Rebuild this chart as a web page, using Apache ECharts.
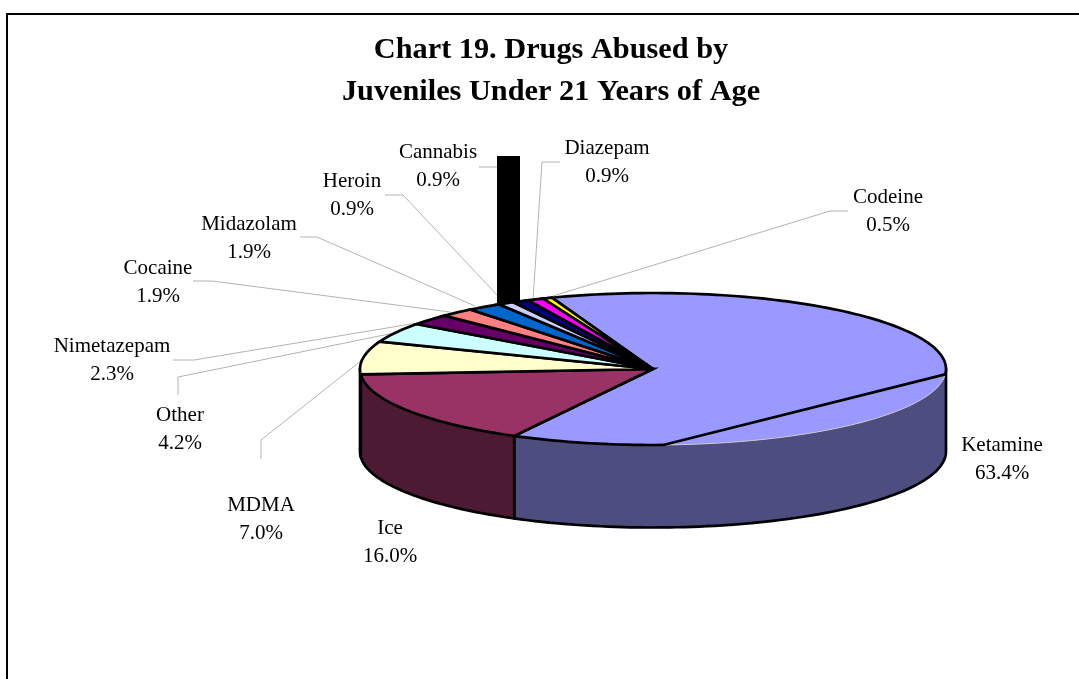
<!DOCTYPE html>
<html>
<head>
<meta charset="utf-8">
<style>html,body{margin:0;padding:0;background:#fff}#c{width:1079px;height:679px}</style>
<script src="https://cdn.jsdelivr.net/npm/echarts@6/dist/echarts.min.js"></script>
</head>
<body>
<div id="c"></div>
<script>
// ---- data ----
const categories = ['Ketamine','Ice','MDMA','Other','Nimetazepam','Cocaine','Midazolam','Heroin','Cannabis','Diazepam','Codeine'];
const percentages = [63.4,16.0,7.0,4.2,2.3,1.9,1.9,0.9,0.9,0.9,0.5];
const titleLines = ['Chart 19. Drugs Abused by','Juveniles Under 21 Years of Age'];

// ---- styles ----
const topColors = ['#9999FF','#993366','#FFFFCC','#CCFFFF','#660066','#FF8080','#0066CC','#CCCCFF','#000080','#FF00FF','#FFFF00'];
const sideColors = ['#4D4D80','#4D1A33','#808066','#668080','#330033','#804040','#003366','#666680','#000040','#800080','#808000'];

// ---- layout ----
const pie = {cx:653, cy:369, rx:293, ry:76, depth:82.5, start:-110.2};
const labelCenters = [[1002,459],[390,542],[261,519],[180,429],[112,360],[158,282],[249,238],[352,195],[438,166],[607,162],[888,211]];
const leaders = [
  null, null,
  [[261,459],[261,440],[362,360]],
  [[178,395],[178,377],[394,333]],
  [[173,360],[194,360],[417,323]],
  [[193,281],[212,281],[450,312]],
  [[300,237],[317,237],[475,306]],
  [[385,195],[403,195],[497,295]],
  [[479,167],[505,167]],
  [[560,162],[542,162],[533,300]],
  [[848,211],[830,211],[553,296]]
];
const spike = {x:497, y:156, width:23, height:149};
const flatRim = {from:4, to:88}; // the part of the first slice's rim drawn as a chord

const total = percentages.reduce((a,b)=>a+b,0);
const bounds = [pie.start];
percentages.forEach(v=>bounds.push(bounds[bounds.length-1]+v/total*360));

function pt(t,dy){
  const r=t*Math.PI/180;
  return [pie.cx+pie.rx*Math.cos(r), pie.cy+pie.ry*Math.sin(r)+(dy||0)];
}
function arc(a,b,dy){
  const n=Math.max(2,Math.ceil(Math.abs(b-a)/1.5)), out=[];
  for(let i=0;i<=n;i++) out.push(pt(a+(b-a)*i/n,dy));
  return out;
}
const black={stroke:'#000',lineWidth:2.7,fill:null,lineJoin:'miter',lineCap:'butt'};
const wall={stroke:'#000',lineWidth:2.7,fill:null,lineJoin:'round',lineCap:'round'};

function renderSlice(params,api){
  const i=params.dataIndex, a=bounds[i], b=bounds[i+1], children=[];
  // visible outer wall: the front half of the ellipse
  const s=Math.max(a,0), e=Math.min(b,180);
  if(e>s){
    const topEdge=arc(s,e), bottom=arc(e,s,pie.depth);
    children.push({type:'polygon',shape:{points:topEdge.concat(bottom)},style:{fill:sideColors[i],stroke:null}});
    children.push({type:'polyline',shape:{points:[pt(s)].concat(arc(s,e,pie.depth),[pt(e)])},style:wall});
  }
  const c=[pie.cx,pie.cy];
  children.push({type:'polygon',shape:{points:[c].concat(arc(a,b))},style:{fill:topColors[i],stroke:null}});
  if(i===0){
    children.push({type:'polyline',shape:{points:arc(flatRim.from,flatRim.to)},style:{stroke:'#c8c8c8',lineWidth:1,fill:null}});
    const outline=[c].concat(arc(a,flatRim.from),arc(flatRim.to,b),[c]);
    children.push({type:'polyline',shape:{points:outline},style:black});
  } else {
    children.push({type:'polygon',shape:{points:[c].concat(arc(a,b))},style:Object.assign({},black)});
  }
  return {type:'group',children};
}

function renderLabel(params,api){
  const i=params.dataIndex, children=[];
  if(leaders[i]) children.push({type:'polyline',shape:{points:leaders[i]},style:{stroke:'#b4b4b4',lineWidth:1,fill:null}});
  children.push({type:'text',style:{
    text:categories[i]+'\n'+percentages[i].toFixed(1)+'%',
    x:labelCenters[i][0],y:labelCenters[i][1],
    fill:'#000',font:'21px "Liberation Serif"',lineHeight:28,align:'center',verticalAlign:'middle'}});
  return {type:'group',children};
}

const chart=echarts.init(document.getElementById('c'),null,{renderer:'canvas'});
chart.setOption({
  animation:false,
  backgroundColor:'#fff',
  title:{
    text:titleLines.join('\n'),left:546,top:24,textAlign:'center',
    textStyle:{fontFamily:'Liberation Serif',fontSize:30.3,fontWeight:'bold',color:'#000',lineHeight:42}
  },
  tooltip:{show:false},
  graphic:[
    {type:'polyline',z:0,silent:true,shape:{points:[[7,679],[7,14],[1079,14]]},style:{stroke:'#000',lineWidth:2,fill:null}},
    {type:'rect',z:1,silent:true,shape:spike,style:{fill:'#000'}}
  ],
  series:[
    {type:'custom',name:'labels',coordinateSystem:'none',z:0,silent:true,data:percentages,renderItem:renderLabel},
    {type:'custom',name:'slices',coordinateSystem:'none',z:3,silent:true,data:percentages,renderItem:renderSlice}
  ]
});
</script>
</body>
</html>
